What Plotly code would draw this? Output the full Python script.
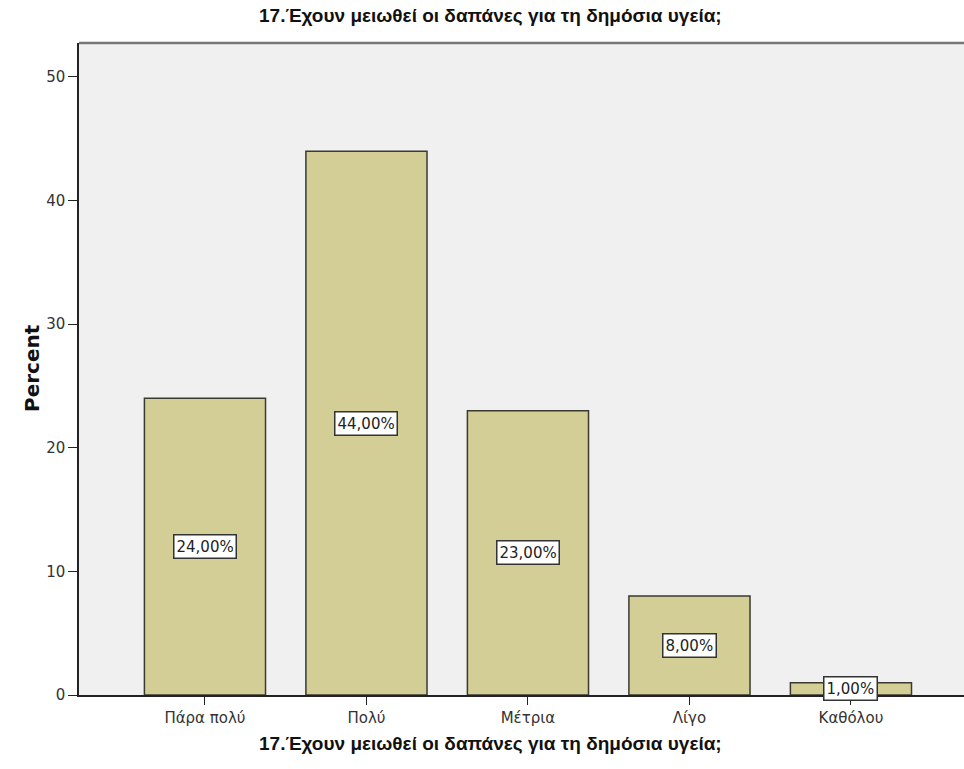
import plotly.graph_objects as go

categories = ["Πάρα πολύ", "Πολύ", "Μέτρια", "Λίγο", "Καθόλου"]
percent = [24.0, 44.0, 23.0, 8.0, 1.0]
labels = ["24,00%", "44,00%", "23,00%", "8,00%", "1,00%"]
y_ticks = [0, 10, 20, 30, 40, 50]
title_text = "17.Έχουν μειωθεί οι δαπάνες για τη δημόσια υγεία;"

W, H = 964, 769
L, R, T, B = 79, 0, 43, 74
pw = W - L - R
ph = H - T - B

TITLE_FONT = "Liberation Sans, Arial"
TICK_FONT = "DejaVu Sans, Verdana, Tahoma, Arial"

fig = go.Figure()
fig.add_trace(go.Bar(
    x=list(range(len(categories))), y=percent, width=0.75,
    marker=dict(color="#d3cd96", line=dict(color="#3a3a32", width=1.5)),
    hoverinfo="skip",
))

for i, (v, t) in enumerate(zip(percent, labels)):
    fig.add_annotation(x=i, y=v / 2, xref="x", yref="y", text=t, showarrow=False,
                       font=dict(family=TICK_FONT, size=15, color="#222"),
                       bgcolor="white", bordercolor="#333", borderwidth=1.5, borderpad=2)

cx = (490 - L) / pw
fig.add_annotation(x=cx, y=(H - 15 - B) / ph, xref="paper", yref="paper", yanchor="middle",
                   text=f"<b>{title_text}</b>", showarrow=False,
                   font=dict(family=TITLE_FONT, size=19, color="#111"))
fig.add_annotation(x=cx, y=(H - 743 - B) / ph, xref="paper", yref="paper", yanchor="middle",
                   text=f"<b>{title_text}</b>", showarrow=False,
                   font=dict(family=TITLE_FONT, size=19, color="#111"))
fig.add_annotation(x=(18 - L) / pw, y=(695 - 368) / ph, xref="paper", yref="paper",
                   text="<b>Percent</b>", textangle=-90, showarrow=False,
                   font=dict(family="DejaVu Sans, Arial", size=20, color="#111"))

fig.add_shape(type="line", xref="paper", yref="paper", x0=0, x1=1, y0=1, y1=1,
              line=dict(color="#777", width=2.5))

fig.update_layout(
    width=W, height=H, margin=dict(l=L, r=R, t=T, b=B),
    paper_bgcolor="white", plot_bgcolor="#f0f0f0", showlegend=False,
    xaxis=dict(range=[-0.78, 4.70], tickvals=list(range(len(categories))), ticktext=categories,
               ticks="outside", ticklen=8, tickcolor="#222", showline=True, linecolor="#222",
               linewidth=1.5, showgrid=False, zeroline=False,
               tickfont=dict(family=TICK_FONT, size=15, color="#333")),
    yaxis=dict(range=[0, 52.75], tickvals=y_ticks, ticks="outside", ticklen=9, tickcolor="#222",
               showline=True, linecolor="#222", linewidth=1.5, showgrid=False, zeroline=False,
               tickfont=dict(family=TICK_FONT, size=15, color="#333")),
)

fig.write_html("out.html")
